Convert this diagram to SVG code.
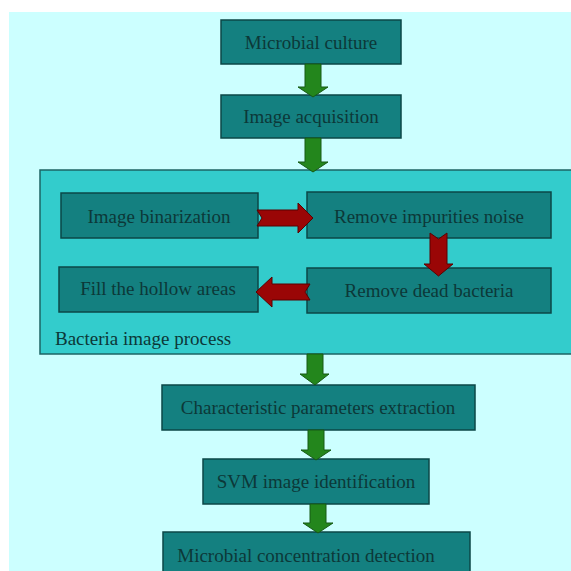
<svg xmlns="http://www.w3.org/2000/svg" width="571" height="571" viewBox="0 0 571 571">
<style>
.box{fill:#148080;stroke:#0b4747;stroke-width:1.5}
.lbl{font-family:"Liberation Serif","Times New Roman",serif;font-size:19px;fill:#0c3838;text-anchor:middle}
.ga{fill:#23861c;stroke:#175a14;stroke-width:1}
.ra{fill:#9a0606;stroke:#5a0000;stroke-width:1}
</style>
<rect x="0" y="0" width="571" height="571" fill="#ffffff"/>
<rect x="9" y="12" width="562" height="559" fill="#ccffff"/>
<g id="group-process">
<rect x="40" y="170" width="540" height="184" fill="#33cccc" stroke="#1d6464" stroke-width="1.5"/>
<text x="55" y="345" class="lbl" style="text-anchor:start">Bacteria image process</text>
</g>
<g id="n-culture"><rect class="box" x="221" y="20" width="180" height="44"/><text class="lbl" x="311" y="49">Microbial culture</text></g>
<g id="n-acq"><rect class="box" x="221" y="95" width="180" height="43"/><text class="lbl" x="311" y="123">Image acquisition</text></g>
<g id="n-bin"><rect class="box" x="61" y="193" width="197" height="45"/><text class="lbl" x="159" y="223">Image binarization</text></g>
<g id="n-imp"><rect class="box" x="307" y="192" width="244" height="46"/><text class="lbl" x="429" y="223">Remove impurities noise</text></g>
<g id="n-dead"><rect class="box" x="307" y="268" width="244" height="45"/><text class="lbl" x="429" y="297">Remove dead bacteria</text></g>
<g id="n-fill"><rect class="box" x="59" y="267" width="199" height="45"/><text class="lbl" x="158" y="295">Fill the hollow areas</text></g>
<g id="n-char"><rect class="box" x="162" y="385" width="313" height="45"/><text class="lbl" x="318" y="414">Characteristic parameters extraction</text></g>
<g id="n-svm"><rect class="box" x="203" y="459" width="226" height="45"/><text class="lbl" x="316" y="488">SVM image identification</text></g>
<g id="n-conc"><rect class="box" x="163" y="532" width="307" height="50"/><text class="lbl" x="306" y="562">Microbial concentration detection</text></g>
<g id="connectors">
<path class="ga" d="M305,64 H321 V87 H328 L313,97 L298,87 H305 Z"/>
<path class="ga" d="M305,138 H321 V162 H328 L313,172 L298,162 H305 Z"/>
<path class="ga" d="M307,354 H323 V374 H329 L315,385 L300,374 H307 Z"/>
<path class="ga" d="M308,430 H324 V450 H331 L316,460 L301,450 H308 Z"/>
<path class="ga" d="M310,504 H326 V523 H333 L318,533 L303,523 H310 Z"/>
<path class="ra" d="M257,210 H298 V203 L313,218 L298,233 V226 H257 L262,218 Z"/>
<path class="ra" d="M430,233 L438.5,239 L447,233 V264 H453 L438.5,276 L424,264 H430 Z"/>
<path class="ra" d="M310,284 H272 V277 L256,292 L272,307 V300 H310 L305,292 Z"/>
</g>
</svg>
